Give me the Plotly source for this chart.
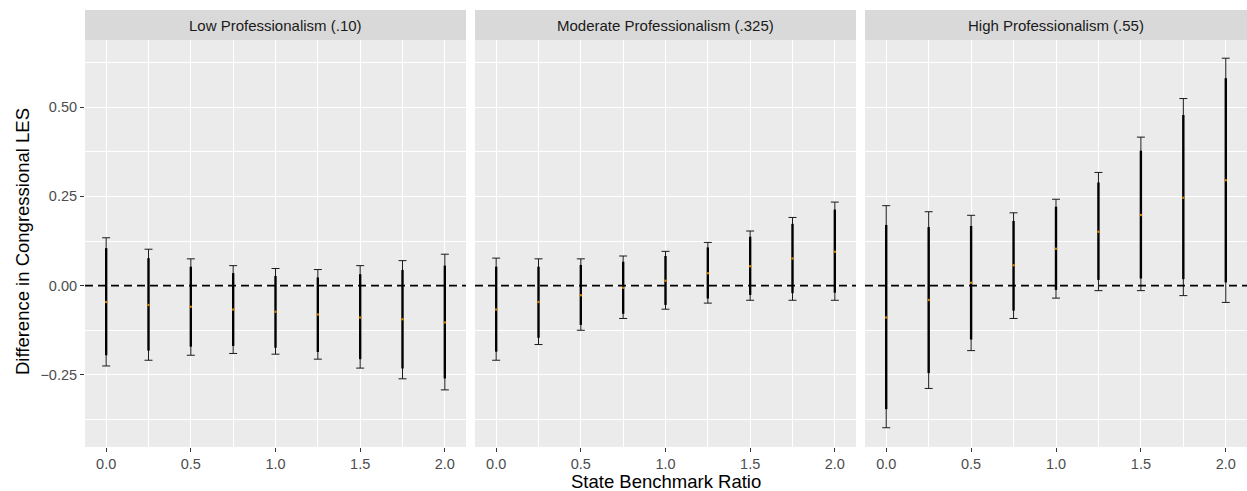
import plotly.graph_objects as go

# ---- data ----
ratio = [0.0, 0.25, 0.5, 0.75, 1.0, 1.25, 1.5, 1.75, 2.0]
panel_titles = ["Low Professionalism (.10)", "Moderate Professionalism (.325)", "High Professionalism (.55)"]

low_est = [-0.046, -0.054, -0.059, -0.067, -0.073, -0.081, -0.089, -0.094, -0.103]
low_lo90 = [-0.195, -0.182, -0.171, -0.169, -0.174, -0.186, -0.206, -0.232, -0.260]
low_hi90 = [0.105, 0.077, 0.053, 0.035, 0.027, 0.023, 0.032, 0.044, 0.056]
low_lo95 = [-0.225, -0.209, -0.195, -0.190, -0.192, -0.206, -0.231, -0.261, -0.292]
low_hi95 = [0.134, 0.102, 0.075, 0.056, 0.048, 0.045, 0.056, 0.070, 0.088]

mod_est = [-0.067, -0.046, -0.027, -0.006, 0.014, 0.035, 0.054, 0.076, 0.095]
mod_lo90 = [-0.185, -0.146, -0.110, -0.079, -0.054, -0.036, -0.026, -0.021, -0.020]
mod_hi90 = [0.053, 0.053, 0.058, 0.067, 0.083, 0.107, 0.137, 0.173, 0.213]
mod_lo95 = [-0.209, -0.165, -0.125, -0.092, -0.066, -0.049, -0.041, -0.041, -0.041]
mod_hi95 = [0.077, 0.075, 0.075, 0.083, 0.096, 0.121, 0.153, 0.191, 0.234]

high_est = [-0.089, -0.040, 0.008, 0.057, 0.103, 0.151, 0.198, 0.246, 0.295]
high_lo90 = [-0.346, -0.245, -0.151, -0.070, -0.012, 0.016, 0.020, 0.018, 0.009]
high_hi90 = [0.170, 0.164, 0.167, 0.181, 0.221, 0.289, 0.378, 0.478, 0.581]
high_lo95 = [-0.398, -0.288, -0.182, -0.092, -0.035, -0.014, -0.014, -0.028, -0.047]
high_hi95 = [0.224, 0.207, 0.197, 0.204, 0.242, 0.317, 0.416, 0.524, 0.637]

x_ticks = [0.0, 0.5, 1.0, 1.5, 2.0]
x_ticktext = ["0.0", "0.5", "1.0", "1.5", "2.0"]
y_ticks = [-0.25, 0.0, 0.25, 0.50]
y_ticktext = ["\u22120.25", "0.00", "0.25", "0.50"]

panels = [
    (low_est, low_lo90, low_hi90, low_lo95, low_hi95),
    (mod_est, mod_lo90, mod_hi90, mod_lo95, mod_hi95),
    (high_est, high_lo90, high_hi90, high_lo95, high_hi95),
]

FONT = "Liberation Sans, Arial, sans-serif"
W, H = 1247, 491
ML, MR, MT, MB = 85, 0, 10, 44
pw = W - ML - MR
ph = H - MT - MB
px_dom = [(85, 466), (475, 856), (865, 1247)]
y_top = (H - MB - 40) / ph

fig = go.Figure()
shapes = []
annotations = []
for i, (est, lo90, hi90, lo95, hi95) in enumerate(panels):
    sfx = "" if i == 0 else str(i + 1)
    xa, ya = "x" + sfx, "y" + sfx
    fig.add_trace(go.Scatter(
        x=ratio, y=est, mode="markers", marker=dict(size=0.1, color="rgba(0,0,0,0)"),
        error_y=dict(type="data", symmetric=False,
                     array=[h - e for h, e in zip(hi95, est)],
                     arrayminus=[e - l for e, l in zip(est, lo95)],
                     color="#1a1a1a", thickness=1, width=4),
        xaxis=xa, yaxis=ya, showlegend=False, hoverinfo="skip"))
    fig.add_trace(go.Scatter(
        x=ratio, y=est, mode="markers", marker=dict(size=0.1, color="rgba(0,0,0,0)"),
        error_y=dict(type="data", symmetric=False,
                     array=[h - e for h, e in zip(hi90, est)],
                     arrayminus=[e - l for e, l in zip(est, lo90)],
                     color="black", thickness=2.4, width=0),
        xaxis=xa, yaxis=ya, showlegend=False, hoverinfo="skip"))
    fig.add_trace(go.Scatter(
        x=ratio, y=est, mode="markers", marker=dict(size=2.5, color="#D98300"),
        xaxis=xa, yaxis=ya, showlegend=False))

    d0 = (px_dom[i][0] - ML) / pw
    d1 = min((px_dom[i][1] - ML) / pw, 1.0)
    xkey = "xaxis" + sfx
    ykey = "yaxis" + sfx
    fig.layout[xkey] = dict(
        domain=[d0, d1], range=[-0.125, 2.125], anchor=ya,
        tickvals=x_ticks, ticktext=x_ticktext, ticks="outside", ticklen=4,
        tickcolor="#333333", tickwidth=1.1,
        showgrid=True, gridcolor="white", gridwidth=1.1,
        minor=dict(dtick=0.25, tick0=0, showgrid=True, gridcolor="white", gridwidth=0.55),
        zeroline=False, showline=False,
        tickfont=dict(family=FONT, size=14.5, color="#4D4D4D"))
    fig.layout[ykey] = dict(
        domain=[0, y_top], range=[-0.452, 0.688], anchor=xa,
        tickvals=y_ticks, ticktext=y_ticktext if i == 0 else None,
        showticklabels=(i == 0), ticks="outside" if i == 0 else "", ticklen=4,
        tickcolor="#333333", tickwidth=1.1,
        showgrid=True, gridcolor="white", gridwidth=1.1,
        minor=dict(dtick=0.125, tick0=0, showgrid=True, gridcolor="white", gridwidth=0.55),
        zeroline=False, showline=False,
        tickfont=dict(family=FONT, size=14.5, color="#4D4D4D"))
    if i > 0:
        fig.layout[ykey]["matches"] = "y"

    shapes.append(dict(type="rect", xref=xa + " domain", yref=ya + " domain",
                       x0=0, x1=1, y0=0, y1=1, fillcolor="#EBEBEB",
                       line=dict(width=0), layer="below"))
    shapes.append(dict(type="line", xref=xa + " domain", yref=ya,
                       x0=0, x1=1, y0=0, y1=0,
                       line=dict(color="black", width=1.6, dash="8px,5px"), layer="above"))
    shapes.append(dict(type="rect", xref="paper", yref="paper",
                       x0=d0, x1=d1, y0=y_top, y1=1.0,
                       fillcolor="#D9D9D9", line=dict(width=0)))
    annotations.append(dict(text=panel_titles[i], xref="paper", yref="paper",
                            x=(d0 + d1) / 2, y=(y_top + 1) / 2,
                            xanchor="center", yanchor="middle", showarrow=False,
                            font=dict(family=FONT, size=15, color="#1A1A1A")))

annotations.append(dict(text="State Benchmark Ratio", xref="paper", yref="paper",
                        x=((85 + 1247) / 2 - ML) / pw,
                        y=-34 / ph, xanchor="center", yanchor="middle", showarrow=False,
                        font=dict(family=FONT, size=18.5, color="black")))
annotations.append(dict(text="Difference in Congressional LES", xref="paper", yref="paper",
                        x=(22 - ML) / pw, y=((H - MB) - 242) / ph,
                        xanchor="center", yanchor="middle", textangle=-90, showarrow=False,
                        font=dict(family=FONT, size=18.5, color="black")))

fig.update_layout(
    width=W, height=H,
    margin=dict(l=ML, r=MR, t=MT, b=MB),
    paper_bgcolor="white", plot_bgcolor="rgba(0,0,0,0)",
    shapes=shapes, annotations=annotations, showlegend=False,
)

fig.write_html("out.html", config={"displayModeBar": False},
               post_script="document.body.style.margin='0px';document.body.style.overflow='hidden';")
